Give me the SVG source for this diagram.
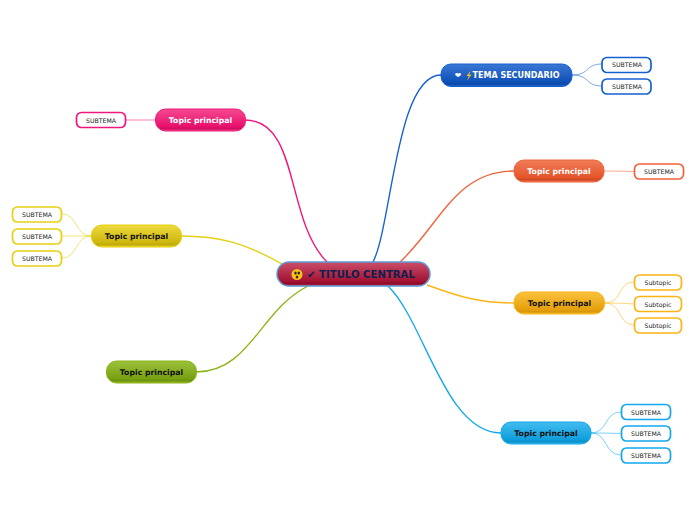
<svg xmlns="http://www.w3.org/2000/svg" width="696" height="520" viewBox="0 0 696 520">
<style>
text{font-family:"DejaVu Sans",Verdana,sans-serif;text-anchor:middle}
.t{font-size:7.75px;font-weight:700}
.s{font-size:6.2px;fill:#222}
.w{fill:#fff}
.k{fill:#111}
.c{fill:none;stroke-width:1.35}
.l{fill:none;stroke-width:1;stroke-opacity:.55}
.b{fill:#fff;stroke-width:1.7}
</style>
<defs>
<linearGradient id="gc" x1="0" y1="0" x2="0" y2="1"><stop offset="0" stop-color="#c94f6a"/><stop offset=".8" stop-color="#a31233"/><stop offset=".9" stop-color="#8f0a2a"/><stop offset="1" stop-color="#b8304f"/></linearGradient>
<linearGradient id="gb" x1="0" y1="0" x2="0" y2="1"><stop offset="0" stop-color="#3a78d4"/><stop offset=".8" stop-color="#0f50b8"/><stop offset=".9" stop-color="#0b48aa"/><stop offset="1" stop-color="#2f6fd0"/></linearGradient>
<linearGradient id="gr" x1="0" y1="0" x2="0" y2="1"><stop offset="0" stop-color="#f07c58"/><stop offset=".8" stop-color="#e4552b"/><stop offset=".9" stop-color="#cf4720"/><stop offset="1" stop-color="#f07a55"/></linearGradient>
<linearGradient id="go" x1="0" y1="0" x2="0" y2="1"><stop offset="0" stop-color="#fbc23c"/><stop offset=".8" stop-color="#e5a00c"/><stop offset=".9" stop-color="#d89608"/><stop offset="1" stop-color="#fbbd2e"/></linearGradient>
<linearGradient id="gs" x1="0" y1="0" x2="0" y2="1"><stop offset="0" stop-color="#42bcf0"/><stop offset=".8" stop-color="#0f9edb"/><stop offset=".9" stop-color="#0b8fc8"/><stop offset="1" stop-color="#3cb8ee"/></linearGradient>
<linearGradient id="gg" x1="0" y1="0" x2="0" y2="1"><stop offset="0" stop-color="#9cc23c"/><stop offset=".8" stop-color="#78a012"/><stop offset=".9" stop-color="#6c9210"/><stop offset="1" stop-color="#98c030"/></linearGradient>
<linearGradient id="gy" x1="0" y1="0" x2="0" y2="1"><stop offset="0" stop-color="#eeda3e"/><stop offset=".8" stop-color="#cdb60c"/><stop offset=".9" stop-color="#c0aa08"/><stop offset="1" stop-color="#ecd92e"/></linearGradient>
<linearGradient id="gp" x1="0" y1="0" x2="0" y2="1"><stop offset="0" stop-color="#f54a90"/><stop offset=".8" stop-color="#e8106c"/><stop offset=".9" stop-color="#d00c60"/><stop offset="1" stop-color="#f24a90"/></linearGradient>
</defs>
<g id="connectors">
<path class="c" stroke="#1560d0" d="M373 262C392 225 396 75 441 75"/>
<path class="c" stroke="#f0623a" d="M400 262C440 225 455 171 514 171"/>
<path class="c" stroke="#fbb416" d="M427 285C460 297 480 303 514 303"/>
<path class="c" stroke="#12a8ec" d="M388 286C425 322 445 433 501 433"/>
<path class="c" stroke="#8ab512" d="M308 286C260 310 250 372 196 372"/>
<path class="c" stroke="#e6d010" d="M282 264C245 243 220 236 181 236"/>
<path class="c" stroke="#f0187c" d="M327 262C285 220 300 120 245 120"/>
<path class="l" stroke="#1560d0" d="M572 75C590 75 585 64 602 64M572 75C590 75 585 86 602 86"/>
<path class="l" stroke="#f0623a" d="M604 171Q620 171 634 171.500"/>
<path class="l" stroke="#fbb416" d="M605 303C622 303 618 282 634 282M605 303Q620 303 634 304M605 303C622 303 618 325 634 325"/>
<path class="l" stroke="#12a8ec" d="M591 433C608 433 604 412 621 412M591 433Q606 433 621 433.500M591 433C608 433 604 455 621 455"/>
<path class="l" stroke="#e6d010" d="M91 236C75 236 78 214 62 214M91 236Q76 236 62 236M91 236C75 236 78 258 62 258"/>
<path class="l" stroke="#f0187c" d="M155 120L126 120"/>
</g>
<g id="central"><rect x="277" y="262" width="153" height="24" rx="12" fill="url(#gc)" stroke="#5b9bd5" stroke-width="1.5"/>
<circle cx="297" cy="274.500" r="5.500" fill="#f6c21c"/><ellipse cx="295.500" cy="273" rx="1.200" ry="1.600" fill="#222"/><ellipse cx="298.800" cy="273" rx="1.200" ry="1.600" fill="#222"/><ellipse cx="297" cy="277" rx="1.300" ry="1.600" fill="#522"/>
<text x="361" y="278" font-size="10.150" font-weight="700" fill="#0f1f4f">✔ TITULO CENTRAL</text></g>
<g id="n1"><rect x="441" y="64" width="131" height="22.500" rx="10" fill="url(#gb)" stroke="#1560d0"/><text x="458" y="78" class="t w">❤</text><polygon points="470.500,71 466.500,76 468.800,76 467,80.500 471.500,74.800 469.300,74.800" fill="#f2c21c"/><text class="t w" x="516" y="78" style="font-size:8px">TEMA SECUNDARIO</text></g>
<g id="n2"><rect x="514" y="160" width="90" height="22" rx="10" fill="url(#gr)" stroke="#f0623a"/><text class="t w" x="559" y="174">Topic principal</text></g>
<g id="n3"><rect x="514" y="292" width="90.500" height="22" rx="10" fill="url(#go)" stroke="#fbb416"/><text class="t k" x="559.500" y="306">Topic principal</text></g>
<g id="n4"><rect x="501" y="422" width="90" height="22" rx="10" fill="url(#gs)" stroke="#12a8ec"/><text class="t k" x="546" y="436">Topic principal</text></g>
<g id="n5"><rect x="106.500" y="361" width="90" height="22" rx="10" fill="url(#gg)" stroke="#8ab512"/><text class="t k" x="151.500" y="375">Topic principal</text></g>
<g id="n6"><rect x="91.500" y="225" width="90" height="22" rx="10" fill="url(#gy)" stroke="#e6d010"/><text class="t k" x="136.500" y="239">Topic principal</text></g>
<g id="n7"><rect x="155.500" y="109" width="90" height="22" rx="10" fill="url(#gp)" stroke="#f0187c"/><text class="t w" x="200.500" y="123">Topic principal</text></g>
<g id="s1"><rect class="b" stroke="#1560d0" x="602" y="57.500" width="49" height="15" rx="5"/><text class="s" x="627" y="67.300">SUBTEMA</text></g>
<g id="s2"><rect class="b" stroke="#1560d0" x="602" y="79" width="49" height="15" rx="5"/><text class="s" x="627" y="89">SUBTEMA</text></g>
<g id="s3"><rect class="b" stroke="#f0623a" x="634.500" y="164" width="49" height="15" rx="5"/><text class="s" x="659" y="174">SUBTEMA</text></g>
<g id="s4"><rect class="b" stroke="#fbb416" x="634.500" y="275" width="47" height="15" rx="5"/><text class="s" x="658" y="285">Subtopic</text></g>
<g id="s5"><rect class="b" stroke="#fbb416" x="634.500" y="296.500" width="47" height="15" rx="5"/><text class="s" x="658" y="306.500">Subtopic</text></g>
<g id="s6"><rect class="b" stroke="#fbb416" x="634.500" y="318" width="47" height="15" rx="5"/><text class="s" x="658" y="328">Subtopic</text></g>
<g id="s7"><rect class="b" stroke="#12a8ec" x="621.500" y="404.500" width="49" height="15" rx="5"/><text class="s" x="646" y="414.500">SUBTEMA</text></g>
<g id="s8"><rect class="b" stroke="#12a8ec" x="621.500" y="426" width="49" height="15" rx="5"/><text class="s" x="646" y="436">SUBTEMA</text></g>
<g id="s9"><rect class="b" stroke="#12a8ec" x="621.500" y="448" width="49" height="15" rx="5"/><text class="s" x="646" y="458">SUBTEMA</text></g>
<g id="s10"><rect class="b" stroke="#e6d010" x="12.500" y="207" width="49" height="15" rx="5"/><text class="s" x="37" y="217">SUBTEMA</text></g>
<g id="s11"><rect class="b" stroke="#e6d010" x="12.500" y="229" width="49" height="15" rx="5"/><text class="s" x="37" y="239">SUBTEMA</text></g>
<g id="s12"><rect class="b" stroke="#e6d010" x="12.500" y="251" width="49" height="15" rx="5"/><text class="s" x="37" y="261">SUBTEMA</text></g>
<g id="s13"><rect class="b" stroke="#f0187c" x="76.500" y="112.500" width="49" height="15" rx="5"/><text class="s" x="101" y="122.500">SUBTEMA</text></g>
</svg>
